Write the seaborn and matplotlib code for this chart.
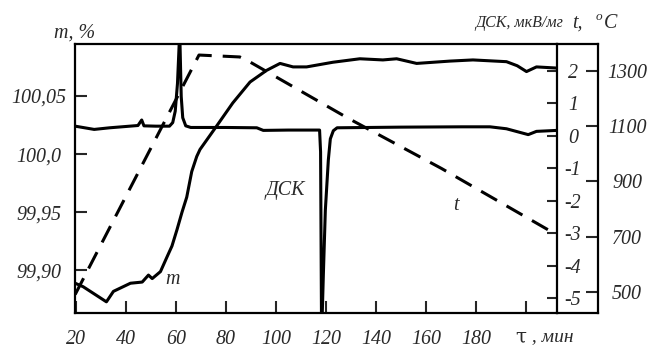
import matplotlib
matplotlib.use("Agg")
import matplotlib.pyplot as plt
import seaborn as sns
import pandas as pd

# ---- data ----
tau_m = [19.8, 23.0, 32.3, 35.1, 41.9, 46.6, 49.1, 50.6, 53.9, 56.6, 58.5, 60.5,
         62.5, 64.4, 66.4, 68.4, 69.7, 76.3, 82.8, 89.7, 96.3, 101.7, 106.9,
         112.3, 122.8, 133.6, 142.8, 148.3, 156.3, 169.6, 178.8, 192.2, 196.5,
         200.2, 204.2, 212.4]
m_vals = [99.889, 99.886, 99.873, 99.882, 99.889, 99.890, 99.896, 99.893,
          99.899, 99.912, 99.921, 99.935, 99.950, 99.963, 99.985, 99.998,
          100.004, 100.024, 100.044, 100.062, 100.072, 100.078, 100.075,
          100.075, 100.079, 100.082, 100.081, 100.082, 100.078, 100.080,
          100.081, 100.0795, 100.076, 100.071, 100.075, 100.074]

tau_dsc = [19.8, 27.4, 33.6, 44.9, 46.4, 47.3, 52.0, 57.5, 58.8, 59.8, 60.7,
           61.6, 62.2, 62.8, 64.0, 66.0, 80.0, 92.4, 95.0, 105.0, 117.5, 117.9,
           118.3, 118.6, 119.0, 119.8, 121.0, 121.8, 123.0, 124.5, 150.0, 174.4,
           185.6, 192.2, 200.9, 204.2, 212.4]
dsc_vals = [0.29, 0.19, 0.24, 0.31, 0.48, 0.30, 0.29, 0.29, 0.40, 0.75, 1.6,
            3.2, 1.2, 0.55, 0.30, 0.25, 0.25, 0.24, 0.16, 0.17, 0.17, -0.5,
            -6.2, -5.4, -4.3, -2.3, -0.75, -0.1, 0.15, 0.24, 0.26, 0.27, 0.27,
            0.21, 0.03, 0.13, 0.16]

tau_t = [19.8, 69.3, 85.6, 88.3, 128.9, 166.2, 212.4]
t_vals = [490, 1358, 1351, 1340, 1129, 947, 706]

x_ticks = [20, 40, 60, 80, 100, 120, 140, 160, 180, 200]
x_labels = ["20", "40", "60", "80", "100", "120", "140", "160", "180", ""]
m_ticks = [99.90, 99.95, 100.0, 100.05]
m_labels = ["99,90", "99,95", "100,0", "100,05"]
dsc_ticks = [2, 1, 0, -1, -2, -3, -4, -5]
dsc_labels = ["2", "1", "0", "-1", "-2", "-3", "-4", "-5"]
t_ticks = [500, 700, 900, 1100, 1300]
t_labels = ["500", "700", "900", "1100", "1300"]

sns.set_theme(style="white")
plt.rcParams["font.family"] = ["Liberation Serif", "DejaVu Serif"]
plt.rcParams["font.style"] = "italic"

W, H = 651, 349
TXT = "#2a2a2a"
FS = 14.4
LW = 2.2

fig = plt.figure(figsize=(W / 100, H / 100), dpi=100)
ax = fig.add_axes([75 / W, 1 - 313 / H, 482 / W, 269 / H])
dax = ax.twinx()
tax = ax.twinx()

df_m = pd.DataFrame({"tau": tau_m, "m": m_vals})
df_d = pd.DataFrame({"tau": tau_dsc, "dsc": dsc_vals})
df_t = pd.DataFrame({"tau": tau_t, "t": t_vals})

sns.lineplot(data=df_m, x="tau", y="m", ax=ax, color="black", lw=LW,
             estimator=None, sort=False)
sns.lineplot(data=df_d, x="tau", y="dsc", ax=dax, color="black", lw=LW,
             estimator=None, sort=False)
sns.lineplot(data=df_t, x="tau", y="t", ax=tax, color="black", lw=LW,
             estimator=None, sort=False)
tax.lines[-1].set_dashes([6, 3.6])

ax.set_xlim(19.74, 212.4)
ax.set_ylim(99.8634, 100.0947)
dax.set_ylim(-5.454, 2.816)
tax.set_ylim(423, 1398)

for a in (ax, dax, tax):
    a.set_xlabel("")
    a.set_ylabel("")
    a.grid(False)
    for s in a.spines.values():
        s.set_visible(False)
        s.set_linewidth(1.6)
        s.set_color("black")

for s in ("left", "bottom", "top"):
    ax.spines[s].set_visible(True)
dax.spines["right"].set_visible(True)
tax.spines["right"].set_visible(True)
ext = (598 - 75) / 482
tax.spines["right"].set_position(("axes", ext))

# extension of the frame to the outer temperature scale
for yy in (0, 1):
    ax.plot([1, ext], [yy, yy], transform=ax.transAxes, color="black",
            lw=1.6, clip_on=False, solid_capstyle="projecting")

ax.set_xticks(x_ticks)
ax.set_xticklabels(x_labels)
ax.set_yticks(m_ticks)
ax.set_yticklabels(m_labels)
ax.tick_params(axis="x", direction="in", length=8.6, width=1.5, pad=12,
               labelsize=FS, labelcolor=TXT, bottom=True, top=False)
ax.tick_params(axis="y", direction="in", length=8.6, width=1.5, pad=26,
               labelsize=FS, labelcolor=TXT, left=True, right=False)
for lbl in ax.get_yticklabels():
    lbl.set_ha("center")

dax.set_yticks(dsc_ticks)
dax.set_yticklabels(dsc_labels)
dax.tick_params(axis="y", direction="in", length=7, width=1.5, pad=11.5,
                labelsize=FS, labelcolor=TXT)
for lbl in dax.get_yticklabels():
    lbl.set_ha("center")

tax.set_yticks(t_ticks)
tax.set_yticklabels(t_labels)
tax.tick_params(axis="y", direction="in", length=9, width=1.5, pad=21,
                labelsize=FS, labelcolor=TXT)
for lbl in tax.get_yticklabels():
    lbl.set_ha("center")


def px(x, y):
    return x / W, 1 - y / H


# header labels
fig.text(*px(75, 33), "m, %", ha="center", va="center", fontsize=FS, color=TXT)
fig.text(*px(563, 23), "ДСК, мкВ/мг", ha="right", va="center", fontsize=11.5,
         color=TXT)
fig.text(*px(572, 23), "t,", ha="left", va="center", fontsize=FS, color=TXT)
fig.text(*px(596, 17), "o", ha="left", va="center", fontsize=9.5, color=TXT)
fig.text(*px(604, 24), "C", ha="left", va="center", fontsize=FS, color=TXT)

# axis title for time
fig.text(*px(515, 337), "τ", ha="left", va="center", fontsize=FS, color=TXT,
         style="normal", family=["DejaVu Serif"])
fig.text(*px(527, 337), " , мин", ha="left", va="center", fontsize=14,
         color=TXT)

# curve labels
fig.text(*px(173, 279), "m", ha="center", va="center", fontsize=FS, color=TXT)
fig.text(*px(285, 191), "ДСК", ha="center", va="center", fontsize=FS, color=TXT)
fig.text(*px(456, 205), "t", ha="center", va="center", fontsize=FS, color=TXT)

fig.savefig("out.png", dpi=100)
